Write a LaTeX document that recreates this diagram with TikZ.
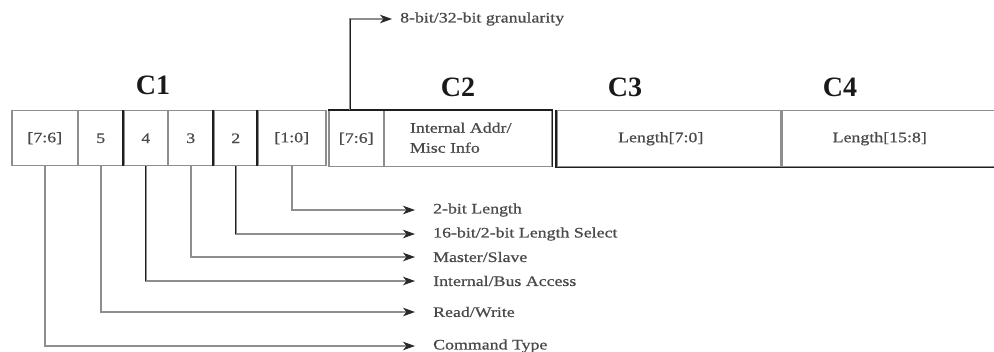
\documentclass[tikz,border=0pt]{standalone}
\usepackage{fontspec}
\setmainfont{Liberation Serif}
\newfontfamily\fieldfont[FakeStretch=1.23,FakeBold=0.7]{Liberation Serif}
\usetikzlibrary{arrows.meta}
\definecolor{txtgray}{HTML}{4A4A4A}
\definecolor{linegray}{HTML}{8E8E8E}
\definecolor{linedark}{HTML}{1E1E1E}
\definecolor{tipdark}{HTML}{2A2A2A}
\definecolor{headblack}{HTML}{1A1A1A}

\begin{document}
\begin{tikzpicture}[x=1pt,y=-1pt,
  small/.style={font=\fieldfont\fontsize{14.5}{20}\selectfont, text=txtgray},
  cell/.style={small, draw=linegray, line width=1.5pt, inner sep=0pt,
    minimum height=55pt, anchor=north west},
  darkedge/.style={draw=linedark, line width=1.4pt},
  conn/.style={draw=linegray, line width=1.6pt,
    -{Stealth[length=12pt,width=8.5pt,inset=3.5pt,color=tipdark]}},
  lab/.style={small, anchor=west, inner xsep=18pt, inner ysep=0pt},
  head/.style={font=\bfseries\fontsize{28}{30}\selectfont, text=headblack}
]
\useasboundingbox (0,0) rectangle (994,352);
\fill[white] (0,0) rectangle (994,352);

% field headers
\node[head] (h1) at (153,85) {C1};
\node[head] (h2) at (458,87) {C2};
\node[head] (h3) at (625,87) {C3};
\node[head] (h4) at (840,87) {C4};

% C1: command byte, bit fields
\node[cell, minimum width=66pt] (a76) at (11,110) {[7:6]};
\node[cell, minimum width=46pt] (a5)  at (77,110) {5};
\node[cell, minimum width=44pt] (a4)  at (123,110) {4};
\node[cell, minimum width=46pt] (a3)  at (167,110) {3};
\node[cell, minimum width=44pt] (a2)  at (213,110) {2};
\node[cell, minimum width=68pt] (a10) at (257,110) {[1:0]};
\draw[darkedge] (a4.north west) -- (a4.south west);
\draw[darkedge] (a2.north west) -- (a2.south west);
\draw[darkedge] (a10.north west) -- (a10.south west);

% C2: granularity and internal address
\node[cell, minimum width=55pt, minimum height=56pt] (b76) at (328,110) {[7:6]};
\node[cell, minimum width=168pt, minimum height=56pt,
  label={[small, align=left, xshift=-7pt, yshift=1pt]center:{Internal Addr/\\Misc Info}}]
  (binfo) at (383,110) {};
\draw[darkedge] (b76.north west) -- (binfo.north east) -- (binfo.south east);

% C3 and C4: length bytes
\node[cell, minimum width=224pt, minimum height=56pt,
  label={[small, xshift=-8pt]center:Length[7:0]}] (c3) at (556,110) {};
\node[cell, minimum width=216pt, minimum height=56pt,
  label={[small, xshift=-9pt]center:Length[15:8]}] (c4) at (780,110) {};
\draw[darkedge] (c3.north west) -- (c3.south west) -- (c3.south east);
\draw[darkedge] (c4.south west) -- (c4.south east);
\draw[draw=linegray, line width=3.5pt] (c3.north east) -- (c3.south east);

% bit field descriptions
\node[lab] (l1) at (415,210) {2-bit Length};
\node[lab] (l2) at (415,234) {16-bit/2-bit Length Select};
\node[lab] (l3) at (415,257) {Master/Slave};
\node[lab] (l4) at (415,281) {Internal/Bus Access};
\node[lab] (l5) at (415,312) {Read/Write};
\node[lab] (l6) at (415,346) {Command Type};
\node[small, anchor=west, inner xsep=8pt, inner ysep=0pt] (gran) at (392,19)
  {8-bit/32-bit granularity};

% connectors
\draw[conn] (a10.south) |- (l1.west);
\draw[conn] (a2.south)  |- (l2.west);
\draw[conn] (a3.south)  |- (l3.west);
\draw[conn] (a4.south)  |- (l4.west);
\draw[conn] (a5.south)  |- (l5.west);
\draw[conn] (a76.south) |- (l6.west);
\draw[conn] ([xshift=-6pt]b76.north) |- (gran.west);

% darker vertical legs
\draw[darkedge] (a2.south) -- (a2.south |- l2.west);
\draw[darkedge] (a4.south) -- (a4.south |- l4.west);
\draw[darkedge] ([xshift=-6pt]b76.north) -- ([xshift=-6pt]b76.north |- gran.west);
\end{tikzpicture}
\end{document}
